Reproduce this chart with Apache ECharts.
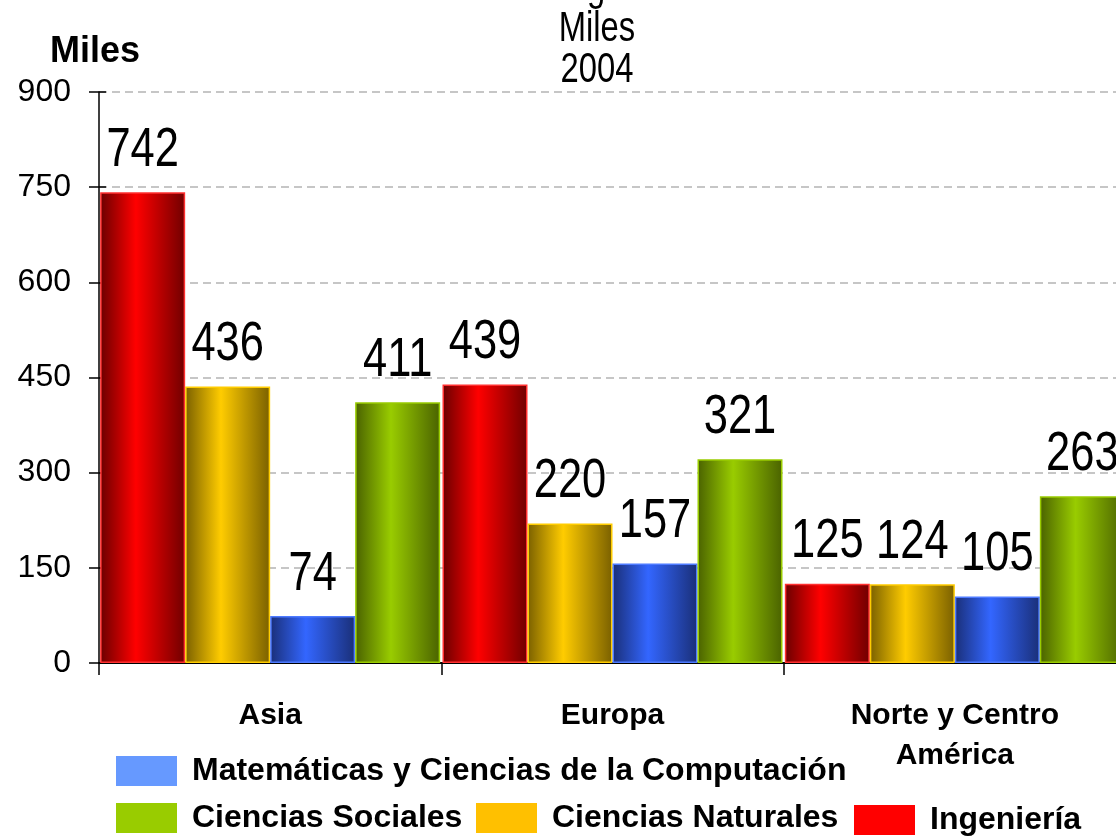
<!DOCTYPE html>
<html>
<head>
<meta charset="utf-8">
<script src="https://cdn.jsdelivr.net/npm/echarts@6/dist/echarts.min.js"></script>
<style>
html,body{margin:0;padding:0;background:#fff;overflow:hidden;}
#c{width:1116px;height:837px;}
</style>
</head>
<body>
<div id="c"></div>
<script>
const categories = ['Asia', 'Europa', 'Norte y Centro\nAmérica'];
const ingenieria = [742, 439, 125];
const cienciasNaturales = [436, 220, 124];
const matematicas = [74, 157, 105];
const cienciasSociales = [411, 321, 263];
const yTicks = [0, 150, 300, 450, 600, 750, 900];
const titleLines = ['Región', 'Miles', '2004'];

const seriesValues = [ingenieria, cienciasNaturales, matematicas, cienciasSociales];
const sans = "'Liberation Sans', Arial, sans-serif";
const BAR_W = 85;

function grad(dark, bright, dark2) {
  return new echarts.graphic.LinearGradient(0, 0, 1, 0, [
    {offset: 0, color: dark},
    {offset: 0.42, color: bright},
    {offset: 1, color: dark2}
  ]);
}

function bar(name, data, fill, border) {
  return {
    name: name, type: 'bar', data: data, barWidth: BAR_W, barGap: '0%',
    itemStyle: {color: fill, borderColor: border, borderWidth: 1.5},
    emphasis: {disabled: true}
  };
}

// value labels: condensed text placed through the axis scales
const labelData = [];
seriesValues.forEach(function (vals, s) {
  vals.forEach(function (v, i) { labelData.push([i, v, s]); });
});
const labelSeries = {
  type: 'custom', name: 'labels', z: 10, silent: true,
  data: labelData,
  renderItem: function (params, api) {
    const p = api.coord([api.value(0), api.value(1)]);
    const s = api.value(2);
    const off = (s - 1.5) * BAR_W;
    return {
      type: 'text', x: p[0] + off, y: p[1] - 14, scaleX: 0.79,
      style: {
        text: String(api.value(1)), fontFamily: sans, fontSize: 55,
        fill: '#000', align: 'center', verticalAlign: 'bottom'
      }
    };
  }
};

const chart = echarts.init(document.getElementById('c'));
const legendText = {fontFamily: sans, fontWeight: 'bold', fontSize: 32, color: '#000', padding: [0, 0, 0, 10]};
function legend(name, color, left, top) {
  return {
    data: [{name: name, itemStyle: {color: color, borderWidth: 0}}],
    left: left, top: top, itemWidth: 61, itemHeight: 30, icon: 'rect',
    selectedMode: false, textStyle: legendText, padding: 0
  };
}

const titleBaselines = [2, 43, 84];
const titleGraphics = titleLines.map(function (t, k) {
  return {
    type: 'text', x: 597, y: titleBaselines[k] - 14, scaleX: 0.78, silent: true,
    style: {text: t, fontFamily: sans, fontSize: 42, fill: '#000', align: 'center', verticalAlign: 'middle'}
  };
});

chart.setOption({
  animation: false,
  backgroundColor: '#fff',
  graphic: titleGraphics,
  grid: {left: 99, top: 92, bottom: 174, width: 1027, containLabel: false, outerBoundsMode: 'none'},
  legend: [
    legend('Matemáticas y Ciencias de la Computación', '#6699ff', 116, 755),
    legend('Ciencias Sociales', '#99cc00', 116, 802),
    legend('Ciencias Naturales', '#ffc000', 476, 802),
    legend('Ingeniería', '#ff0000', 854, 804)
  ],
  xAxis: {
    type: 'category', data: categories,
    axisLine: {lineStyle: {color: '#000', width: 2}},
    axisTick: {show: true, length: 12, lineStyle: {color: '#000', width: 1.5}},
    axisLabel: {fontFamily: sans, fontWeight: 'bold', fontSize: 30, lineHeight: 40, color: '#000', margin: 33, interval: 0}
  },
  yAxis: [{
    type: 'value', min: yTicks[0], max: yTicks[yTicks.length - 1], interval: 150,
    name: 'Miles', nameLocation: 'end', nameGap: 22,
    nameTextStyle: {fontFamily: sans, fontWeight: 'bold', fontSize: 36, color: '#000', align: 'center', padding: [0, 8, 0, 0]},
    axisLine: {show: true, lineStyle: {color: '#000', width: 1.5}},
    axisTick: {show: true, length: 10, lineStyle: {color: '#000', width: 1.5}},
    axisLabel: {fontFamily: sans, fontSize: 32, color: '#000', margin: 28},
    splitLine: {show: true, lineStyle: {color: '#b4b4b4', type: [8, 5], width: 1.5}}
  }, {
    type: 'value', position: 'left', min: yTicks[0], max: yTicks[yTicks.length - 1], interval: 150,
    axisLine: {show: false},
    axisTick: {show: true, inside: true, length: 7, lineStyle: {color: '#000', width: 1.5}},
    axisLabel: {show: false}, splitLine: {show: false}
  }],
  series: [
    bar('Ingeniería', ingenieria, grad('#6a0000', '#ff0000', '#700000'), '#ff3030'),
    bar('Ciencias Naturales', cienciasNaturales, grad('#7a6000', '#ffcc00', '#7a6000'), '#ffcc00'),
    bar('Matemáticas y Ciencias de la Computación', matematicas, grad('#1a2f78', '#3366ff', '#1a2f78'), '#4d7aff'),
    bar('Ciencias Sociales', cienciasSociales, grad('#4a6200', '#99cc00', '#4a6200'), '#99cc00'),
    labelSeries
  ]
});
</script>
</body>
</html>
